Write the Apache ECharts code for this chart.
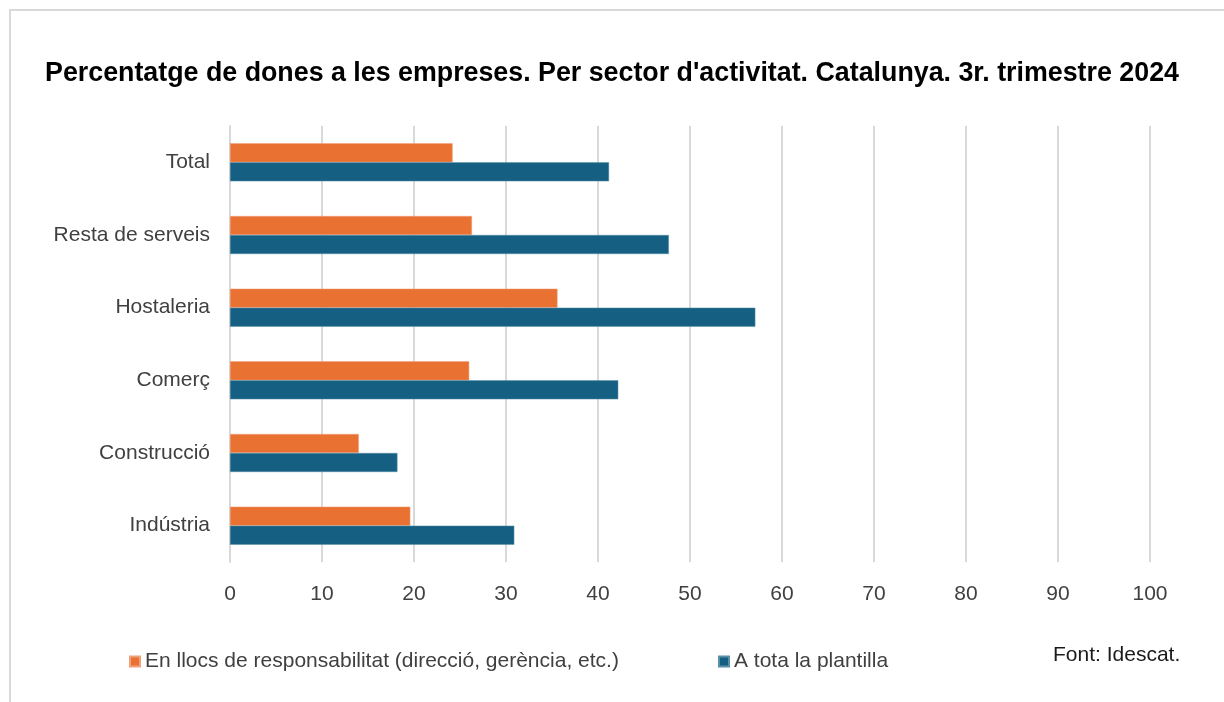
<!DOCTYPE html>
<html><head><meta charset="utf-8">
<script src="https://cdn.jsdelivr.net/npm/echarts@6/dist/echarts.min.js"></script>
<style>html,body{margin:0;padding:0;background:#fff}#c{width:1224px;height:702px}</style>
</head><body><div id="c"></div>
<script>
const categories = ['Total', 'Resta de serveis', 'Hostaleria', 'Comerç', 'Construcció', 'Indústria'];
const responsabilitat = [24.2, 26.3, 35.6, 26.0, 14.0, 19.6];
const plantilla = [41.2, 47.7, 57.1, 42.2, 18.2, 30.9];
const seriesNames = ['En llocs de responsabilitat (direcció, gerència, etc.)', 'A tota la plantilla'];
const xTicks = [0, 10, 20, 30, 40, 50, 60, 70, 80, 90, 100];

const FONT = '"Liberation Sans", Arial, sans-serif';
const chart = echarts.init(document.getElementById('c'));
chart.setOption({
  animation: false,
  title: {
    text: 'Percentatge de dones a les empreses. Per sector d\'activitat. Catalunya. 3r. trimestre 2024',
    left: 'center', top: 55,
    textStyle: { fontFamily: FONT, fontSize: 26.8, fontWeight: 'bold', color: '#000' }
  },
  legend: [{
    data: [seriesNames[0]], left: 124, top: 646, icon: 'rect', itemWidth: 10, itemHeight: 10, itemGap: 4,
    textStyle: { fontFamily: FONT, fontSize: 21, color: '#404040' }
  }, {
    data: [seriesNames[1]], left: 713, top: 646, icon: 'rect', itemWidth: 10, itemHeight: 10, itemGap: 4,
    textStyle: { fontFamily: FONT, fontSize: 21, color: '#404040' }
  }],
  grid: { left: 230, top: 126, width: 920, height: 436, containLabel: false },
  xAxis: {
    type: 'value', min: xTicks[0], max: xTicks[xTicks.length - 1], interval: 10,
    axisLine: { show: false }, axisTick: { show: false },
    splitLine: { show: true, lineStyle: { color: '#d9d9d9', width: 2 } },
    axisLabel: { fontFamily: FONT, fontSize: 21, color: '#404040', margin: 22 }
  },
  yAxis: {
    type: 'category', data: categories, inverse: true,
    axisLine: { show: true, lineStyle: { color: '#d9d9d9', width: 2 } },
    axisTick: { show: false },
    axisLabel: { fontFamily: FONT, fontSize: 21, color: '#404040', margin: 20 }
  },
  series: [{
    name: seriesNames[0], type: 'bar', data: responsabilitat, barWidth: 19, barGap: '0%',
    itemStyle: { color: '#E97132', borderColor: '#f0a07a', borderWidth: 0.5 }
  }, {
    name: seriesNames[1], type: 'bar', data: plantilla, barWidth: 19, barGap: '0%',
    itemStyle: { color: '#156082', borderColor: '#5a8fa8', borderWidth: 0.5 }
  }],
  graphic: [{
    type: 'rect', shape: { x: 10, y: 10, width: 1230, height: 700 },
    style: { fill: 'none', stroke: '#d9d9d9', lineWidth: 2 }, silent: true
  }, {
    type: 'text', left: 1053, top: 645,
    style: { text: 'Font: Idescat.', font: '21px ' + FONT, fill: '#1a1a1a' }
  }]
});
</script></body></html>
